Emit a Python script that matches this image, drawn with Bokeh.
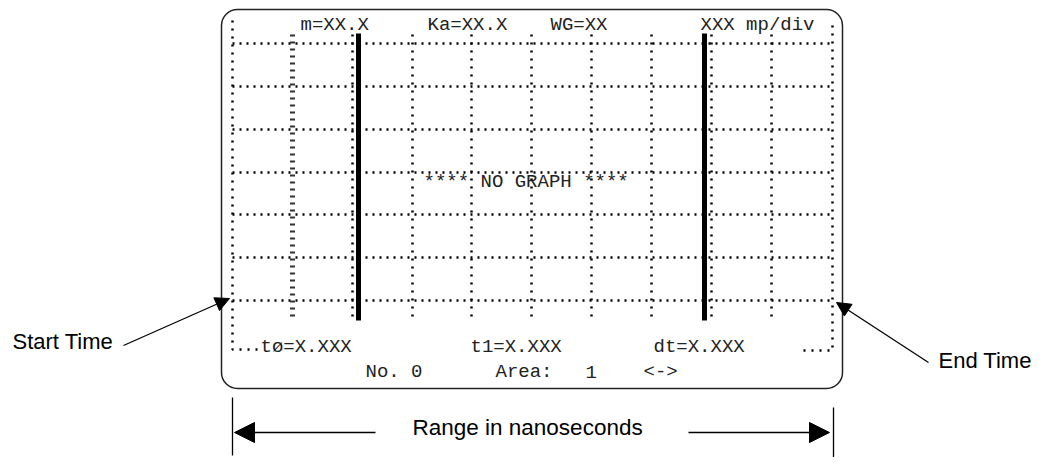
from bokeh.plotting import figure
from bokeh.models import Range1d, BoxAnnotation, Arrow, NormalHead
from bokeh.core.properties import value
from bokeh.embed import file_html
from bokeh.resources import INLINE

# ---- layout data (page pixel coordinates) ----
grid_x_inner = [352, 412, 471, 531, 591, 651, 711, 771]
grid_x_dense = [292]
grid_y = [43, 86, 129, 172, 214, 257, 300]
cursor_x = [358, 704]

top_labels = ["m=XX.X", "Ka=XX.X", "WG=XX", "XXX mp/div"]
top_label_x = [300, 427, 550, 700]
bottom_labels = ["t\u00f8=X.XXX", "t1=X.XXX", "dt=X.XXX"]
bottom_label_x = [260, 470, 653]
status_labels = ["No. 0", "Area:", "1", "<->"]
status_label_x = [365, 495, 585, 643]
center_label = "**** NO GRAPH ****"

# screen frame
X0, X1 = 232, 832
Y_TOP_BORDER, Y_BOTTOM_DOTS = 20, 349
Y_LINE_TOP, Y_LINE_BOT = 34, 316

p = figure(width=1036, height=457, output_backend="svg", toolbar_location=None,
           x_range=Range1d(0, 1036), y_range=Range1d(457, 0), min_border=0)
p.axis.visible = False
p.grid.visible = False
p.outline_line_color = None
p.background_fill_color = "white"
p.border_fill_color = "white"

# rounded screen box
p.add_layout(BoxAnnotation(left=221, right=842, top=9, bottom=388, fill_alpha=0,
                           line_color="#222222", line_alpha=1.0, line_width=1.5,
                           border_radius=16))

# horizontal dotted grid
p.multi_line(xs=[[X0, X1] for _ in grid_y], ys=[[y, y] for y in grid_y],
             line_color="black", line_width=2.5, line_dash="2 5")
# inner vertical dotted grid
p.multi_line(xs=[[x, x] for x in grid_x_inner], ys=[[Y_LINE_TOP, Y_LINE_BOT] for _ in grid_x_inner],
             line_color="black", line_width=2.5, line_dash="2 6")
# dense column
p.multi_line(xs=[[x, x] for x in grid_x_dense], ys=[[Y_LINE_TOP, Y_LINE_BOT + 2] for _ in grid_x_dense],
             line_color="#333333", line_width=5, line_dash="2 5")
# dotted borders
p.line([X0, X0, 258], [Y_TOP_BORDER, Y_BOTTOM_DOTS, Y_BOTTOM_DOTS], line_color="black",
       line_width=2.5, line_dash="2 6")
p.line([803, X1, X1], [Y_BOTTOM_DOTS + 1, Y_BOTTOM_DOTS + 1, Y_TOP_BORDER], line_color="black",
       line_width=2.5, line_dash="2 6")
# cursors
p.multi_line(xs=[[x, x] for x in cursor_x], ys=[[33, 320] for _ in cursor_x],
             line_color="black", line_width=5)

mono = value("Liberation Mono")
p.text(x=top_label_x, y=[24] * len(top_labels), text=top_labels, text_font=mono,
       text_font_size="19px", text_color="#222222", text_baseline="middle", text_align="left")
p.text(x=bottom_label_x, y=[346] * len(bottom_labels), text=bottom_labels, text_font=mono,
       text_font_size="19px", text_color="#222222", text_baseline="middle", text_align="left")
p.text(x=status_label_x, y=[371] * len(status_labels), text=status_labels, text_font=mono,
       text_font_size="19px", text_color="#222222", text_baseline="middle", text_align="left")
p.text(x=[423], y=[181], text=[center_label], text_font=mono,
       text_font_size="19px", text_color="#222222", text_baseline="middle", text_align="left")

sans = value("Liberation Sans")
p.text(x=[12, 938], y=[341, 360], text=["Start Time", "End Time"], text_font=sans,
       text_font_size="22px", text_color="black", text_baseline="middle", text_align="left")
p.text(x=[412], y=[427], text=["Range in nanoseconds"], text_font=sans,
       text_font_size="22.5px", text_color="black", text_baseline="middle", text_align="left")

def arrow(x0, y0, x1, y1, size=14):
    p.add_layout(Arrow(end=NormalHead(size=size, fill_color="black", line_color="black"),
                       x_start=x0, y_start=y0, x_end=x1, y_end=y1,
                       line_color="black", line_width=1.3))

arrow(123, 345, 229, 298)
arrow(928, 362, 836, 302)
arrow(375, 432, 234, 432, size=20)
arrow(688, 432, 829, 432, size=20)

# range end ticks
p.multi_line(xs=[[232, 232], [833, 833]], ys=[[397, 455], [407, 465]], line_color="black", line_width=1.3)

open("out.html", "w").write(file_html(p, INLINE))
